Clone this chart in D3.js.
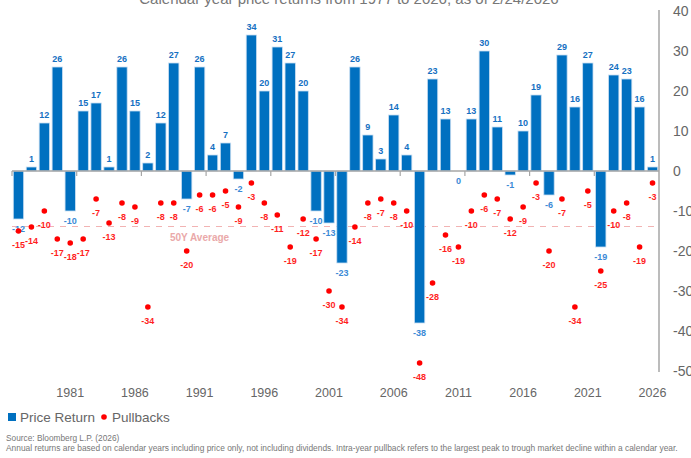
<!DOCTYPE html>
<html>
<head>
<meta charset="utf-8">
<script src="https://cdn.jsdelivr.net/npm/d3@7"></script>
<style>
  body { margin: 0; background: #fff; }
  svg { display: block; }
  text { font-family: "Liberation Sans", "DejaVu Sans", sans-serif; }
</style>
</head>
<body>
<div id="chart"></div>
<script>
// calendar years shown on the chart
let years = d3.range(1977, 2027);

// annual price return (%) per year
let priceReturn = [
  -12, 1, 12, 26, -10, 15, 17, 1, 26, 15,
  2, 12, 27, -7, 26, 4, 7, -2, 34, 20,
  31, 27, 20, -10, -13, -23, 26, 9, 3, 14,
  4, -38, 23, 13, 0, 13, 30, 11, -1, 10,
  19, -6, 29, 16, 27, -19, 24, 23, 16, 1
];

// largest intra-year pullback (%) per year
let pullbacks = [
  -15, -14, -10, -17, -18, -17, -7, -13, -8, -9,
  -34, -8, -8, -20, -6, -6, -5, -9, -3, -8,
  -11, -19, -12, -17, -30, -34, -14, -8, -7, -8,
  -10, -48, -28, -16, -19, -10, -6, -7, -12, -9,
  -3, -20, -7, -34, -5, -25, -10, -8, -19, -3
];

let yTicks = [40, 30, 20, 10, 0, -10, -20, -30, -40, -50];
let xLabelYears = [1981, 1986, 1991, 1996, 2001, 2006, 2011, 2016, 2021, 2026];

let width = 691, height = 458;

let svg = d3.select("#chart")
  .append("svg")
    .attr("width", width)
    .attr("height", height);

let x = d3.scaleBand()
  .domain(years)
  .range([12, 659])
  .paddingInner(0.2)
  .paddingOuter(0.1);

let y = d3.scaleLinear()
  .domain([-50, 40])
  .range([371, 11]);

// title (partly cut off at the top, as in the original)
svg.append("text")
  .attr("x", 349)
  .attr("y", 4)
  .attr("text-anchor", "middle")
  .attr("font-size", "15px")
  .attr("fill", "#777")
  .text("Calendar year price returns from 1977 to 2026, as of 2/24/2026");

// 50 year average pullback
let avg = d3.mean(pullbacks);
svg.append("line")
  .attr("x1", 12).attr("x2", 657)
  .attr("y1", y(avg)).attr("y2", y(avg))
  .attr("stroke", "#f2b3b3")
  .attr("stroke-width", 1.2)
  .attr("stroke-dasharray", "6,6");

svg.append("text")
  .attr("x", 170)
  .attr("y", y(avg) + 14)
  .attr("font-size", "10px")
  .attr("font-weight", "bold")
  .attr("fill", "#eaa9a9")
  .text("50Y Average");

// bars
svg.selectAll("rect.bar")
  .data(years)
  .enter()
  .append("rect")
    .attr("class", "bar")
    .attr("x", function(d) { return x(d); })
    .attr("y", function(d, i) { return y(Math.max(0, priceReturn[i])); })
    .attr("width", x.bandwidth())
    .attr("height", function(d, i) { return Math.abs(y(priceReturn[i]) - y(0)); })
    .attr("fill", "#0070c0")
    .attr("stroke", "#c9def2")
    .attr("stroke-width", 0.8);

// zero line + category ticks
let axisColor = "#a6a6a6";
svg.append("line")
  .attr("x1", 12).attr("x2", 659)
  .attr("y1", y(0)).attr("y2", y(0))
  .attr("stroke", axisColor)
  .attr("stroke-width", 1.5);

svg.selectAll("line.xtick")
  .data(years.filter(function(d, i) { return i % 5 == 0; }))
  .enter()
  .append("line")
    .attr("class", "xtick")
    .attr("x1", function(d) { return x(d) - x.step() * x.paddingInner() / 2; })
    .attr("x2", function(d) { return x(d) - x.step() * x.paddingInner() / 2; })
    .attr("y1", y(0))
    .attr("y2", y(0) + 5)
    .attr("stroke", axisColor)
    .attr("stroke-width", 1.2);

// bar labels
svg.selectAll("text.barlabel")
  .data(years)
  .enter()
  .append("text")
    .attr("class", "barlabel")
    .attr("x", function(d) { return x(d) + x.bandwidth() / 2; })
    .attr("y", function(d, i) {
      let v = priceReturn[i];
      return v > 0 ? y(v) - 5 : y(v) + 13;
    })
    .attr("text-anchor", "middle")
    .attr("font-size", "9px")
    .attr("font-weight", "bold")
    .attr("fill", function(d, i) { return priceReturn[i] > 0 ? "#1570c2" : "#3b8ad6"; })
    .text(function(d, i) { return priceReturn[i]; });

// pullback dots and labels
svg.selectAll("circle.pull")
  .data(years)
  .enter()
  .append("circle")
    .attr("class", "pull")
    .attr("cx", function(d) { return x(d) + x.bandwidth() / 2; })
    .attr("cy", function(d, i) { return y(pullbacks[i]); })
    .attr("r", 2.8)
    .attr("fill", "#ff0000");

svg.selectAll("text.pulllabel")
  .data(years)
  .enter()
  .append("text")
    .attr("class", "pulllabel")
    .attr("x", function(d) { return x(d) + x.bandwidth() / 2; })
    .attr("y", function(d, i) { return y(pullbacks[i]) + 17; })
    .attr("text-anchor", "middle")
    .attr("font-size", "9px")
    .attr("font-weight", "bold")
    .attr("fill", "#ff1f1f")
    .text(function(d, i) { return pullbacks[i]; });

// right axis
svg.append("line")
  .attr("x1", 659).attr("x2", 659)
  .attr("y1", 10).attr("y2", 372)
  .attr("stroke", axisColor)
  .attr("stroke-width", 1.5);

svg.selectAll("text.ytick")
  .data(yTicks)
  .enter()
  .append("text")
    .attr("class", "ytick")
    .attr("x", 673)
    .attr("y", function(d) { return y(d) + 5; })
    .attr("font-size", "14px")
    .attr("fill", "#666")
    .text(function(d) { return d; });

// year labels
svg.selectAll("text.xlabel")
  .data(xLabelYears)
  .enter()
  .append("text")
    .attr("class", "xlabel")
    .attr("x", function(d) { return x(d) + x.bandwidth() / 2; })
    .attr("y", 397)
    .attr("text-anchor", "middle")
    .attr("font-size", "12.5px")
    .attr("fill", "#666")
    .text(function(d) { return d; });

// legend
svg.append("rect")
  .attr("x", 8).attr("y", 413)
  .attr("width", 8).attr("height", 8)
  .attr("fill", "#0070c0");
svg.append("text")
  .attr("x", 20).attr("y", 422)
  .attr("font-size", "13.5px")
  .attr("fill", "#666")
  .text("Price Return");
svg.append("circle")
  .attr("cx", 104).attr("cy", 417)
  .attr("r", 2.8)
  .attr("fill", "#ff0000");
svg.append("text")
  .attr("x", 112).attr("y", 422)
  .attr("font-size", "13.5px")
  .attr("fill", "#666")
  .text("Pullbacks");

// footnotes
svg.append("text")
  .attr("x", 6).attr("y", 441)
  .attr("font-size", "8.3px")
  .attr("fill", "#777")
  .text("Source: Bloomberg L.P. (2026)");
svg.append("text")
  .attr("x", 6).attr("y", 451)
  .attr("font-size", "8.4px")
  .attr("fill", "#777")
  .text("Annual returns are based on calendar years including price only, not including dividends. Intra-year pullback refers to the largest peak to trough market decline within a calendar year.");
</script>
</body>
</html>
